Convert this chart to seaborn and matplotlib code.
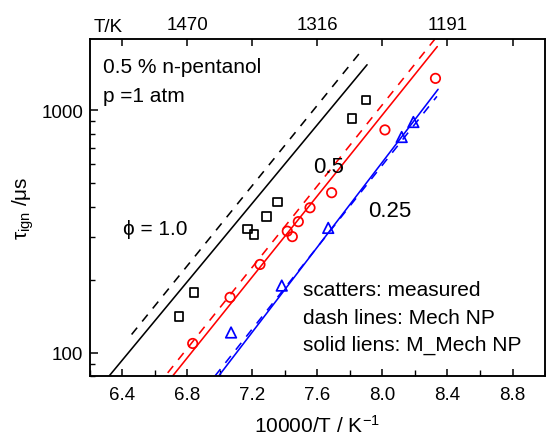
import numpy as np
import pandas as pd
import matplotlib
matplotlib.use("Agg")
import matplotlib.pyplot as plt
import matplotlib.ticker as mticker
import seaborn as sns

# ---------------- data ----------------
# measured ignition delay times (10000/T, tau in microseconds)
phi10_x = [6.748, 6.842, 7.170, 7.209, 7.287, 7.353, 7.814, 7.897]
phi10_tau = [141, 177, 324, 307, 364, 418, 924, 1103]

phi05_x = [6.832, 7.062, 7.246, 7.414, 7.445, 7.482, 7.554, 7.687, 8.015, 8.326]
phi05_tau = [109, 169, 231, 317, 301, 347, 396, 457, 830, 1355]

phi025_x = [7.068, 7.380, 7.666, 8.118, 8.190]
phi025_tau = [121, 189, 327, 776, 895]

# model lines (Mech NP = dashed, M_Mech NP = solid)
phi10_mech_x = [6.456, 7.883]
phi10_mech_tau = [118.7, 1803]
phi10_mmech_x = [6.30, 7.905]
phi10_mmech_tau = [77.4, 1542]

phi05_mech_x = [6.678, 8.321]
phi05_mech_tau = [82.4, 1963]
phi05_mmech_x = [6.70, 8.337]
phi05_mmech_tau = [78.7, 1833]

phi025_mech_x = [6.969, 8.335]
phi025_mech_tau = [80, 1142]
phi025_mmech_x = [6.98, 8.342]
phi025_mmech_tau = [78.1, 1221]

bottom_ticks = [6.4, 6.8, 7.2, 7.6, 8.0, 8.4, 8.8]
top_ticks = [6.4, 6.8, 7.2, 7.6, 8.0, 8.4, 8.8]
top_labels = ["", "1470", "", "1316", "", "1191", ""]
y_ticks = [100, 1000]

# ---------------- style ----------------
sns.set_theme(style="ticks")
plt.rcParams["font.family"] = ["Liberation Sans", "DejaVu Sans"]
plt.rcParams["mathtext.fontset"] = "custom"
plt.rcParams["mathtext.rm"] = "Liberation Sans"
plt.rcParams["mathtext.it"] = "Liberation Sans"
plt.rcParams["axes.linewidth"] = 1.1
for k in ["text.color", "axes.labelcolor", "xtick.color", "ytick.color",
          "axes.edgecolor", "xtick.labelcolor", "ytick.labelcolor"]:
    plt.rcParams[k] = "black"

fig = plt.figure(figsize=(5.46, 4.39), dpi=100)
ax = fig.add_axes([90 / 546, 1 - 377 / 439, 455 / 546, 337 / 439])

LW = 1.15
dash = (5.5, 5.0)

def draw_line(x, y, color, dashed):
    n_before = len(ax.lines)
    sns.lineplot(x=x, y=y, color=color, linewidth=LW, ax=ax, sort=False,
                 estimator=None, zorder=2)
    ln = ax.lines[n_before]
    if dashed:
        ln.set_dashes(dash)

draw_line(phi10_mech_x, phi10_mech_tau, "black", True)
draw_line(phi10_mmech_x, phi10_mmech_tau, "black", False)
draw_line(phi05_mech_x, phi05_mech_tau, "#ff0000", True)
draw_line(phi05_mmech_x, phi05_mmech_tau, "#ff0000", False)
draw_line(phi025_mech_x, phi025_mech_tau, "#0000ff", True)
draw_line(phi025_mmech_x, phi025_mmech_tau, "#0000ff", False)

sns.scatterplot(x=phi10_x, y=phi10_tau, marker="s", s=36, fc="none",
                ec="black", linewidth=1.25, ax=ax, zorder=3)
sns.scatterplot(x=phi05_x, y=phi05_tau, marker="o", s=46, fc="none",
                ec="#ff0000", linewidth=1.25, ax=ax, zorder=3)
sns.scatterplot(x=phi025_x, y=phi025_tau, marker="^", s=58, fc="none",
                ec="#0000ff", linewidth=1.25, ax=ax, zorder=3)

ax.set_yscale("log")
ax.set_xlim(6.2, 9.0)
ax.set_ylim(80, 1970)

ax.xaxis.set_major_locator(mticker.FixedLocator(bottom_ticks))
ax.xaxis.set_major_formatter(mticker.FixedFormatter([f"{v:.1f}" for v in bottom_ticks]))
ax.xaxis.set_minor_locator(mticker.MultipleLocator(0.2))
ax.yaxis.set_major_locator(mticker.FixedLocator(y_ticks))
ax.yaxis.set_major_formatter(mticker.FixedFormatter([str(v) for v in y_ticks]))
ax.yaxis.set_minor_locator(mticker.LogLocator(base=10, subs=np.arange(2, 10)))
ax.yaxis.set_minor_formatter(mticker.NullFormatter())

ax.tick_params(axis="both", which="major", direction="in", length=5, width=1.1,
               labelsize=13.5, colors="black")
ax.tick_params(axis="x", which="major", pad=7)
ax.tick_params(axis="y", which="major", pad=5, length=6)
ax.tick_params(axis="both", which="minor", direction="in", length=3.5, width=1.0)
ax.tick_params(axis="x", which="minor", length=4.5)

for sp in ax.spines.values():
    sp.set_visible(True)
    sp.set_color("black")
    sp.set_linewidth(1.1)

ax2 = ax.twiny()
ax2.set_xlim(ax.get_xlim())
ax2.xaxis.set_major_locator(mticker.FixedLocator(top_ticks))
ax2.xaxis.set_major_formatter(mticker.FixedFormatter(top_labels))
ax2.xaxis.set_minor_locator(mticker.NullLocator())
ax2.tick_params(axis="x", which="major", direction="in", length=5, width=1.1,
                labelsize=13.5, pad=4, colors="black")
ax2.grid(False)

ax.set_xlabel("10000/T / K$^{-1}$", fontsize=15, labelpad=8)
ax.set_ylabel(r"$\tau_{\rm ign}$ /μs", fontsize=15, labelpad=4)

ax.text(0.04, 1.024, "T/K", transform=ax.transAxes, fontsize=13.5,
        ha="center", va="baseline")

kw = dict(transform=ax.transAxes, fontsize=15, va="baseline", ha="left")
ax.text(0.0286, 0.901, "0.5 % n-pentanol", **kw)
ax.text(0.0286, 0.815, "p =1 atm", **kw)
ax.text(0.0725, 0.421, "ϕ = 1.0", **kw)
ax.text(0.490, 0.606, "0.5", transform=ax.transAxes, fontsize=16, va="baseline", ha="left")
ax.text(0.611, 0.474, "0.25", transform=ax.transAxes, fontsize=16, va="baseline", ha="left")
ax.text(0.468, 0.241, "scatters: measured", **kw)
ax.text(0.468, 0.157, "dash lines: Mech NP", **kw)
ax.text(0.468, 0.077, "solid liens: M_Mech NP", **kw)

fig.savefig("out.png", dpi=100)
